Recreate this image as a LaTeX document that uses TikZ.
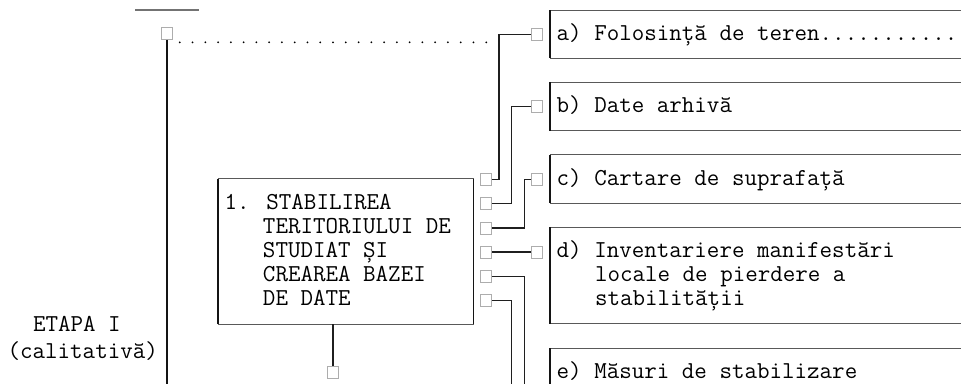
\documentclass[tikz,border=0pt]{standalone}
\usepackage{fontspec}
\usetikzlibrary{calc}
\tikzset{
  txt/.style={anchor=base west, inner sep=0pt, font=\ttfamily\fontsize{24.32pt}{24.15pt}\selectfont},
  sqr/.style={draw=black!32, line width=0.8pt, minimum width=11pt, minimum height=12pt, inner sep=0pt},
  hl/.style={draw=black!65, line width=1pt},
  vl/.style={draw=black!92, line width=1.3pt},
  conn/.style={draw=black!88, line width=1.2pt},
  ulin/.style={draw=black!55, line width=1.3pt}
}
\begin{document}
\begin{tikzpicture}[x=1pt,y=-1pt]
\useasboundingbox (0,0) rectangle (961,383);
\fill[white] (0,0) rectangle (961,383);

% column / row helper coordinates
\coordinate (c26) at (499.02,0);
\coordinate (c27) at (511.79,0);
\coordinate (c28) at (524.56,0);
\coordinate (bot) at (0,386);

% top underline
\coordinate (ul1) at (135.1,10);
\coordinate (ul2) at (198.9,10);
\draw[ulin] (ul1) -- (ul2);

% squares
\node[sqr] (s0) at (167,33.5) {};
\node[sqr] (s1) at (486.25,179.6) {};
\node[sqr] (s2) at (486.25,203.7) {};
\node[sqr] (s3) at (486.25,227.9) {};
\node[sqr] (s4) at (486.25,252.0) {};
\node[sqr] (s5) at (486.25,276.2) {};
\node[sqr] (s6) at (486.25,300.3) {};
\node[sqr] (sa) at (537.33,34.15) {};
\node[sqr] (sb) at (537.33,106.6) {};
\node[sqr] (sc) at (537.33,179.6) {};
\node[sqr] (sd) at (537.33,252.0) {};
\node[sqr] (sbot) at (333.01,372.5) {};

% dotted leader on the first row
\foreach \i in {1,...,25} \fill ({167+12.77*\i},42.3) circle (1pt);

% main vertical line
\draw[vl] (s0.south) -- (s0 |- bot);

% left box
\node[inner sep=0pt, minimum width=255.4pt, minimum height=144.9pt] (box1) at (345.78,251.5) {};
\draw[hl] (box1.north west) -- (box1.north east);
\draw[hl] (box1.south west) -- (box1.south east);
\draw[vl] (box1.north west) -- (box1.south west);
\draw[vl] (box1.north east) -- (box1.south east);
\node[txt] (t1a) at (224.47,209.2) {1. STABILIREA};
\node[txt] (t1b) at (262.78,233.35) {TERITORIULUI DE};
\node[txt] (t1c) at (262.78,257.5) {STUDIAT ȘI};
\node[txt] (t1d) at (262.78,281.65) {CREAREA BAZEI};
\node[txt] (t1e) at (262.78,305.8) {DE DATE};

% right boxes (open to the right)
\coordinate (aT) at (550.1,10);    \coordinate (aB) at (550.1,58.3);
\coordinate (bT) at (550.1,82.45); \coordinate (bB) at (550.1,130.75);
\coordinate (cT) at (550.1,154.9); \coordinate (cB) at (550.1,203.2);
\coordinate (dT) at (550.1,227.35);\coordinate (dB) at (550.1,323.95);
\coordinate (eT) at (550.1,348.1); \coordinate (eB) at (550.1,386);
\foreach \t/\b in {aT/aB,bT/bB,cT/cB,dT/dB} {
  \draw[hl] (\t) -- (\t -| 965,0);
  \draw[hl] (\b) -- (\b -| 965,0);
}
\draw[hl] (eT) -- (eT -| 965,0);
\foreach \t/\b in {aT/aB,bT/bB,cT/cB,dT/dB,eT/eB} \draw[vl] (\t) -- (\b);

\node[txt] (ta) at (556.49,40.15) {a) Folosință de teren...........};
\node[txt] (tb) at (556.49,112.6) {b) Date arhivă};
\node[txt] (tc) at (556.49,185.05) {c) Cartare de suprafață};
\node[txt] (td1) at (556.49,257.5) {d) Inventariere manifestări};
\node[txt] (td2) at (594.8,281.65) {locale de pierdere a};
\node[txt] (td3) at (594.8,305.8) {stabilității};
\node[txt] (te) at (556.49,378.25) {e) Măsuri de stabilizare};

% stage label
\node[txt] (et1) at (32.9,331.5) {ETAPA I};
\node[txt] (et2) at (7.4,358) {(calitativă)};

% connectors
\draw[conn] (s1.east) -| (c26 |- sa) -- (sa.west);
\draw[conn] (s2.east) -| (c27 |- sb) -- (sb.west);
\draw[conn] (s3.east) -| (c28 |- sc) -- (sc.west);
\draw[conn] (s4.east) -- (sd.west);
\draw[conn] (s5.east) -| (c28 |- bot);
\draw[conn] (s6.east) -| (c27 |- bot);
\draw[conn] (sbot |- box1.south) -- (sbot.north);
\end{tikzpicture}
\end{document}
